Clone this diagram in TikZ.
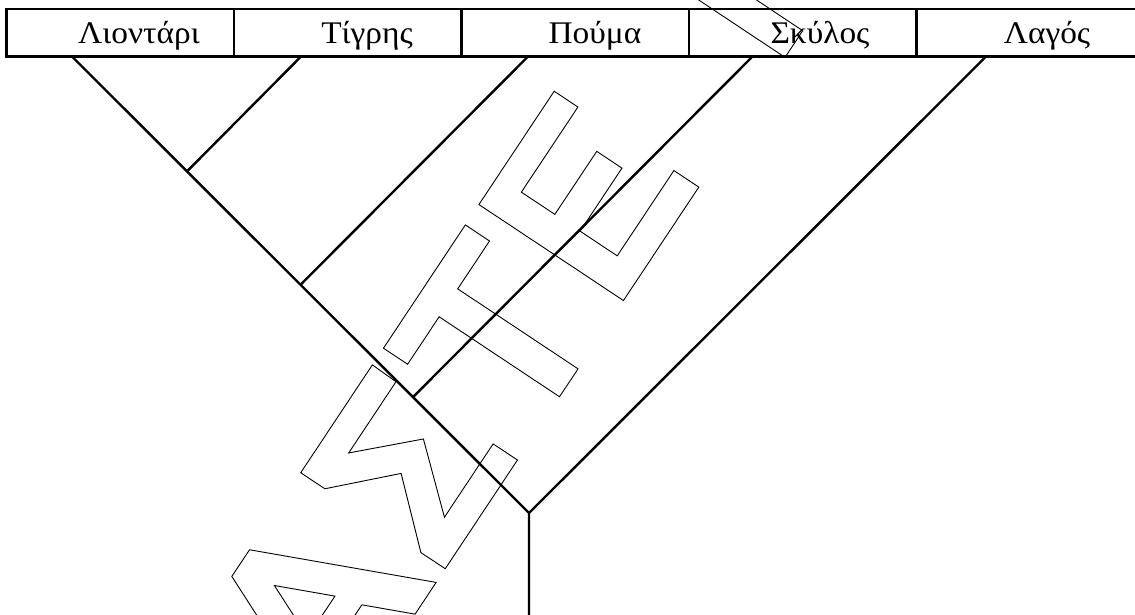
\documentclass[tikz,border=0pt]{standalone}
\usepackage{fontspec}
\setmainfont{Liberation Serif}
\newfontfamily\taxonfont[FakeStretch=1.06]{Liberation Serif}
\tikzset{
  cell/.style={draw, line width=2.2pt, minimum width=227.5pt, minimum height=47.5pt,
               inner sep=0pt, outer sep=0pt},
  taxon/.style={font=\taxonfont\fontsize{31.5}{36}\selectfont, anchor=base, inner sep=0pt},
  branch/.style={line width=2.4pt, line join=miter},
  glyph/.style={line width=0.9pt, line join=miter},
}
\begin{document}
\begin{tikzpicture}[x=1pt,y=-1pt]
\useasboundingbox (0,0) rectangle (1135,614);
\clip (0,0) rectangle (1135,614);
\fill[white] (0,0) rectangle (1135,614);

% header row of taxa
\node[cell] (c1) at (120.25,32.75) {};
\node[cell] (c2) at (347.75,32.75) {};
\node[cell] (c3) at (575.25,32.75) {};
\node[cell] (c4) at (802.75,32.75) {};
\node[cell] (c5) at (1030.25,32.75) {};
\node[taxon] (t1) at (139,43) {Λιοντάρι};
\node[taxon] (t2) at (367,43) {Τίγρης};
\node[taxon] (t3) at (595,43) {Πούμα};
\node[taxon] (t4) at (820,43) {Σκύλος};
\node[taxon] (t5) at (1047,43) {Λαγός};

% cladogram
\coordinate (l1) at (72,56.5);
\coordinate (l2) at (301,56.5);
\coordinate (l3) at (528,56.5);
\coordinate (l4) at (752.5,56.5);
\coordinate (l5) at (986,56.5);
\coordinate (j1) at (187,171.4);
\coordinate (j2) at (300.5,284.8);
\coordinate (j3) at (413,397.1);
\coordinate (j4) at (529,513);
\coordinate (root) at (529,625);
\draw[branch] (l1) -- (j4) -- (root);
\draw[branch] (l2) -- (j1);
\draw[branch] (l3) -- (j2);
\draw[branch] (l4) -- (j3);
\draw[branch] (l5) -- (j4);

% outlined lettering along a slanted baseline
\begin{scope}[shift={(570.3pt,-380.5pt)}, x={(0.5534pt,0.8329pt)}, y={(-0.8329pt,0.5534pt)}, glyph]
  % A
  \draw (-350.5,173.5) -- (-318.5,173.5) -- (-242.4,0) -- (-280.5,0) -- (-302.2,49.5)
        -- (-366.8,49.5) -- (-388.5,0) -- (-426.6,0) -- cycle;
  \draw (-334.5,133) -- (-309.8,76.7) -- (-359.2,76.7) -- cycle;
  % Sigma
  \draw (-96.5,173.5) -- (-226,173.5) -- (-226,144.5) -- (-171,89.5) -- (-226,29.2)
        -- (-226,0) -- (-95.5,0) -- (-95.5,29.2) -- (-183.5,29.2) -- (-130,90)
        -- (-183,144.5) -- (-97.5,144.5) -- cycle;
  % T
  \draw (-76.5,173.5) -- (71.5,173.5) -- (71.5,144.5) -- (14,144.5) -- (14,0)
        -- (-19.5,0) -- (-19.5,144.5) -- (-76.5,144.5) -- cycle;
  % E
  \draw (96,173.5) -- (232,173.5) -- (232,145) -- (129.8,145) -- (129.8,104.8)
        -- (205.5,104.8) -- (205.5,74.5) -- (129.8,74.5) -- (129.8,29.9)
        -- (232.2,29.9) -- (232.2,0) -- (96,0) -- cycle;
  % stem of the next letter
  \draw (388,0) -- (420,0) -- (420,173.5) -- (388,173.5) -- cycle;
\end{scope}
\end{tikzpicture}
\end{document}
